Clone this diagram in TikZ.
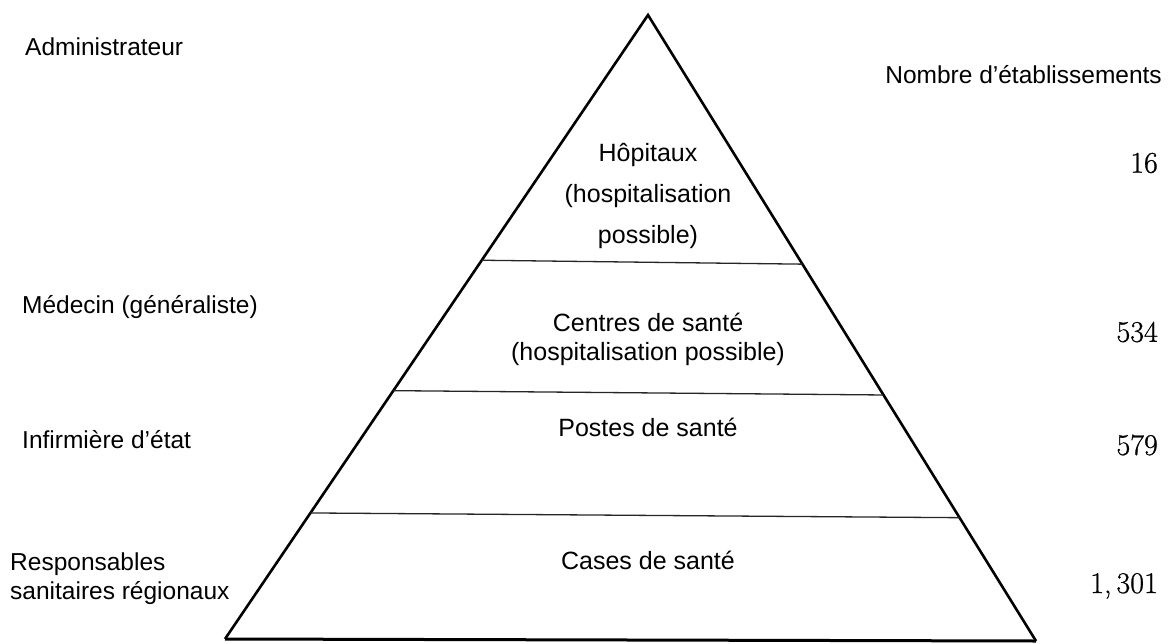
\documentclass[tikz,border=0pt]{standalone}
\usepackage{fontspec}
\setmainfont{Liberation Sans}
\newfontfamily\numfont[FakeBold=0.8]{Latin Modern Roman}
\usetikzlibrary{calc}
\begin{document}
\begin{tikzpicture}[x=1pt,y=-1pt,
  edge/.style={line width=2.6pt,line join=miter},
  divider/.style={line width=1.3pt,black!85},
  lbl/.style={font=\fontsize{24.5}{29}\selectfont,inner sep=0pt},
  tier/.style={font=\fontsize{25}{29}\selectfont,align=center,inner sep=0pt},
  count/.style={font=\numfont\fontsize{30}{32}\selectfont,inner sep=0pt,anchor=east}]
  \useasboundingbox (0,0) rectangle (1168,643);
  % pyramid outline
  \coordinate (apex) at (648,15);
  \coordinate (bl) at (225,639);
  \coordinate (br) at (1036,641);
  \draw[edge] (bl) -- (apex) -- (br);
  \draw[line width=3pt] (bl) -- (br);
  % tier dividers
  \coordinate (l1) at ($(apex)!0.393!(bl)$);
  \coordinate (r1) at ($(apex)!0.398!(br)$);
  \coordinate (l2) at ($(apex)!0.602!(bl)$);
  \coordinate (r2) at ($(apex)!0.607!(br)$);
  \coordinate (l3) at ($(apex)!0.798!(bl)$);
  \coordinate (r3) at ($(apex)!0.803!(br)$);
  \draw[divider] (l1) -- (r1);
  \draw[divider] (l2) -- (r2);
  \draw[divider] (l3) -- (r3);
  % tier labels
  \node[tier,font=\fontsize{25}{41}\selectfont] (hop) at (648,196) {Hôpitaux\\(hospitalisation\\possible)};
  \node[tier] (cs) at (648,339) {Centres de santé\\(hospitalisation possible)};
  \node[tier] (ps) at (648,427) {Postes de santé};
  \node[tier] (cas) at (648,560) {Cases de santé};
  % staff on the left
  \node[lbl,anchor=west] (adm) at (25,47) {Administrateur};
  \node[lbl,anchor=west] (med) at (22,307) {Médecin (généraliste)};
  \node[lbl,anchor=west] (inf) at (22,440) {Infirmière d’état};
  \node[lbl,anchor=west,align=left] (resp) at (10,579) {Responsables\\sanitaires régionaux};
  % number of facilities on the right
  \node[lbl,anchor=east] (nb) at (1162,75) {Nombre d’établissements};
  \node[count] (n1) at (1158,163) {16};
  \node[count] (n2) at (1158,332) {534};
  \node[count] (n3) at (1158,445) {579};
  \node[count] (n4) at (1158,586) {1,\,301};
\end{tikzpicture}
\end{document}
